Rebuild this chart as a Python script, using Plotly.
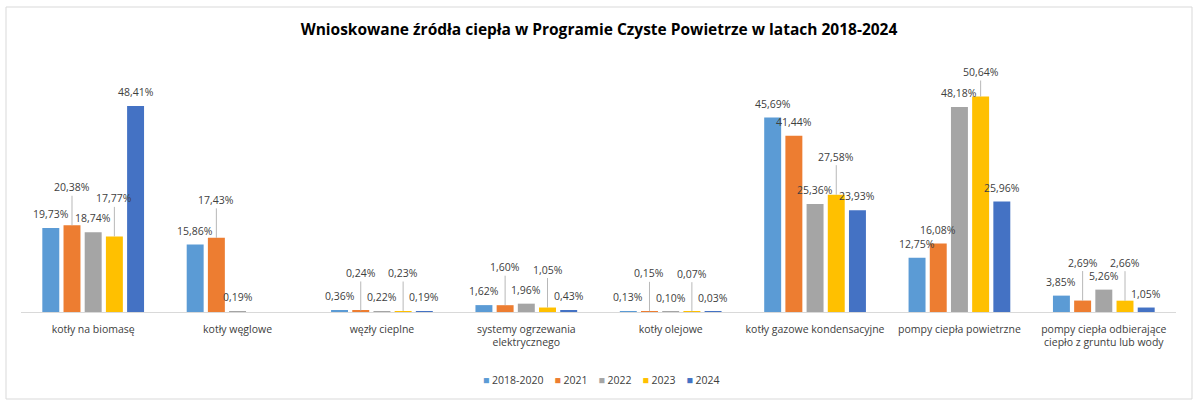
import plotly.graph_objects as go

categories = [
    "kotły na biomasę",
    "kotły węglowe",
    "węzły cieplne",
    "systemy ogrzewania<br>elektrycznego",
    "kotły olejowe",
    "kotły gazowe kondensacyjne",
    "pompy ciepła powietrzne",
    "pompy ciepła odbierające<br>ciepło z gruntu lub wody",
]
years = ["2018-2020", "2021", "2022", "2023", "2024"]

v_2018_2020 = [19.73, 15.86, 0.36, 1.62, 0.13, 45.69, 12.75, 3.85]
v_2021 = [20.38, 17.43, 0.24, 1.60, 0.15, 41.44, 16.08, 2.69]
v_2022 = [18.74, 0.19, 0.22, 1.96, 0.10, 25.36, 48.18, 5.26]
v_2023 = [17.77, None, 0.23, 1.05, 0.07, 27.58, 50.64, 2.66]
v_2024 = [48.41, None, 0.19, 0.43, 0.03, 23.93, 25.96, 1.05]

series = [v_2018_2020, v_2021, v_2022, v_2023, v_2024]
colors = ["#5B9BD5", "#ED7D31", "#A5A5A5", "#FFC000", "#4472C4"]

W, H = 1198, 409
ML, MR, MT, MB = 21, 22, 78, 97
YMAX = 55
BARGAP, GROUPGAP = 0.266, 0.2
FONT = "Open Sans"
TXT = "#404040"

fig = go.Figure()
for name, vals, col in zip(years, series, colors):
    fig.add_trace(go.Bar(
        name=name, x=categories, y=vals, marker_color=col,
        marker_line_width=0, hoverinfo="y+name", showlegend=False,
    ))


def fmt(v):
    return f"{v:.2f}".replace(".", ",") + "%"


plot_w = W - ML - MR
plot_h = H - MT - MB
px_per_unit = plot_h / YMAX
slot_px = plot_w / len(categories) * (1 - BARGAP) / len(years)

# Etykiety danych; gdy etykieta koliduje z poprzednią, podnosimy ją z linią odniesienia
annotations = []
for k, vals in enumerate(series):
    shift = (k - (len(years) - 1) / 2) * slot_px
    for i, (cat, v) in enumerate(zip(categories, vals)):
        if v is None:
            continue
        prev = series[k - 1][i] if k > 0 else None
        raise_it = (k in (1, 3) and prev is not None
                    and abs(v - prev) * px_per_unit < 12)
        if raise_it:
            top_px = MT + plot_h * (1 - v / YMAX)
            lift = min(38, top_px - 72)
            annotations.append(dict(
                x=cat, y=v, xref="x", yref="y", text=fmt(v), xshift=shift,
                showarrow=True, arrowhead=0, arrowwidth=0.8, arrowcolor="#a6a6a6",
                ax=0, ay=-lift, standoff=0,
                font=dict(family=FONT, size=10.5, color=TXT),
            ))
        else:
            annotations.append(dict(
                x=cat, y=v, xref="x", yref="y", text=fmt(v), xshift=shift,
                showarrow=False, yanchor="bottom", yshift=5,
                font=dict(family=FONT, size=10.5, color=TXT),
            ))

# legenda jako tekst z kolorowymi kwadratami
legend_text = "&nbsp;&nbsp;&nbsp;&nbsp;".join(
    f"<span style='color:{c}'>■</span>&nbsp;{y}" for y, c in zip(years, colors)
)
annotations.append(dict(
    text=legend_text, xref="paper", yref="paper",
    x=(601 - ML) / plot_w, y=-(380 - (H - MB)) / plot_h,
    xanchor="center", yanchor="middle", showarrow=False,
    font=dict(family=FONT, size=10.5, color=TXT),
))

fig.update_layout(
    width=W, height=H,
    margin=dict(l=ML, r=MR, t=MT, b=MB),
    paper_bgcolor="white", plot_bgcolor="white",
    font=dict(family=FONT, size=10.5, color=TXT),
    title=dict(
        text="<b>Wnioskowane źródła ciepła w Programie Czyste Powietrze w latach 2018-2024</b>",
        x=0.5, xanchor="center", y=1 - 30 / H, yanchor="middle",
        font=dict(family=FONT, size=15.5, color="#000000"),
    ),
    barmode="group", bargap=BARGAP, bargroupgap=GROUPGAP,
    showlegend=False,
    annotations=annotations,
    shapes=[dict(
        type="rect", xref="paper", yref="paper",
        x0=-(ML - 6) / plot_w, x1=1 + (MR - 6) / plot_w,
        y0=-(MB - 10) / plot_h, y1=1 + (MT - 7) / plot_h,
        line=dict(color="#d9d9d9", width=1), fillcolor="rgba(0,0,0,0)",
    )],
)
fig.update_xaxes(
    showline=True, linecolor="#d9d9d9", linewidth=1, ticks="",
    showgrid=False, tickfont=dict(family=FONT, size=10.5, color=TXT),
    ticklabelstandoff=7,
)
fig.update_yaxes(range=[0, YMAX], visible=False, showgrid=False)

fig.write_html(
    "out.html",
    config={"displayModeBar": False},
    post_script="document.body.style.margin='0';",
)
